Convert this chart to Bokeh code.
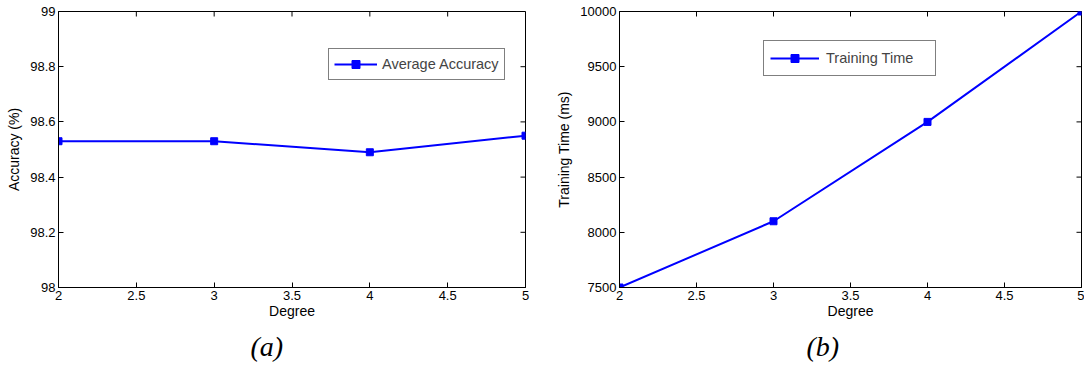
import math
from bokeh.plotting import figure
from bokeh.layouts import row
from bokeh.models import (FixedTicker, CustomJSTickFormatter, Range1d,
                          Legend, LegendItem, Title)
from bokeh.embed import file_html
from bokeh.resources import INLINE

degree = [2, 3, 4, 5]
accuracy = [98.53, 98.53, 98.49, 98.55]
train_time = [7500, 8100, 9000, 10000]

x_ticks = [2, 2.5, 3, 3.5, 4, 4.5, 5]
acc_ticks = [98, 98.2, 98.4, 98.6, 98.8, 99]
time_ticks = [7500, 8000, 8500, 9000, 9500, 10000]

FONT = "Liberation Sans"
BLUE = "#0000ff"
fmt = CustomJSTickFormatter(code="return String(Math.round(tick*10)/10);")


def style_axis(ax, ticks, label_standoff):
    ax.ticker = FixedTicker(ticks=ticks)
    ax.formatter = fmt
    ax.major_tick_in = 5
    ax.major_tick_out = 0
    ax.minor_tick_line_color = None
    ax.axis_line_color = "black"
    ax.major_tick_line_color = "black"
    ax.major_label_text_font = FONT
    ax.major_label_text_font_size = "13px"
    ax.major_label_text_color = "black"
    ax.major_label_standoff = 3
    ax.axis_label_text_font = FONT
    ax.axis_label_text_font_size = "14px"
    ax.axis_label_text_font_style = "normal"
    ax.axis_label_text_color = "black"
    ax.axis_label_standoff = label_standoff


def make(xs, ys, yticks, yrange, ylabel, leg_label, leg_loc, leg_opts, tag, tag_off,
         width, bl, br):
    p = figure(width=width, height=368, output_backend="svg", toolbar_location=None,
               x_range=Range1d(2, 5), y_range=Range1d(*yrange),
               min_border_left=bl, min_border_right=br, min_border_top=11,
               min_border_bottom=81)
    p.grid.visible = False
    p.outline_line_color = "black"
    p.outline_line_width = 1
    p.background_fill_color = "white"
    p.border_fill_color = "white"
    # inward ticks on the top and right edges of the box
    p.ray(x=x_ticks, y=[yrange[1]] * len(x_ticks), length=5, length_units="screen",
          angle=-math.pi / 2, line_color="black", line_width=1)
    p.ray(x=[5] * len(yticks), y=yticks, length=5, length_units="screen",
          angle=math.pi, line_color="black", line_width=1)
    r1 = p.line(xs, ys, line_color=BLUE, line_width=2)
    r2 = p.scatter(xs, ys, marker="square", size=7, fill_color=BLUE, line_color=BLUE)
    style_axis(p.xaxis[0], x_ticks, 0)
    style_axis(p.yaxis[0], yticks, 5)
    p.xaxis[0].axis_label = "Degree"
    p.yaxis[0].axis_label = ylabel
    leg = Legend(items=[LegendItem(label=leg_label, renderers=[r1, r2])],
                 location=leg_loc, border_line_color="black", border_line_width=1,
                 label_text_font=FONT, label_text_font_size="14.5px",
                 margin=0, spacing=0, background_fill_alpha=1, **leg_opts)
    p.add_layout(leg, "center")
    p.add_layout(Title(text=tag, align="left", offset=tag_off,
                       text_font="Liberation Serif",
                       text_font_style="italic", text_font_size="28px",
                       text_color="black", standoff=14), "below")
    return p


p1 = make(degree, accuracy, acc_ticks, (98, 99), "Accuracy (%)", "Average Accuracy",
          (270, 207), dict(glyph_width=43, label_standoff=5, padding=5, label_height=20),
          "(a)", 192, 553, 58, 28)
p2 = make(degree, train_time, time_ticks, (7500, 10000), "Training Time (ms)",
          "Training Time", (144, 211),
          dict(glyph_width=49, label_standoff=7, padding=6, label_height=22, label_width=103),
          "(b)", 187, 531, 64, 3)

layout = row(p1, p2)
open("out.html", "w").write(file_html(layout, INLINE))
